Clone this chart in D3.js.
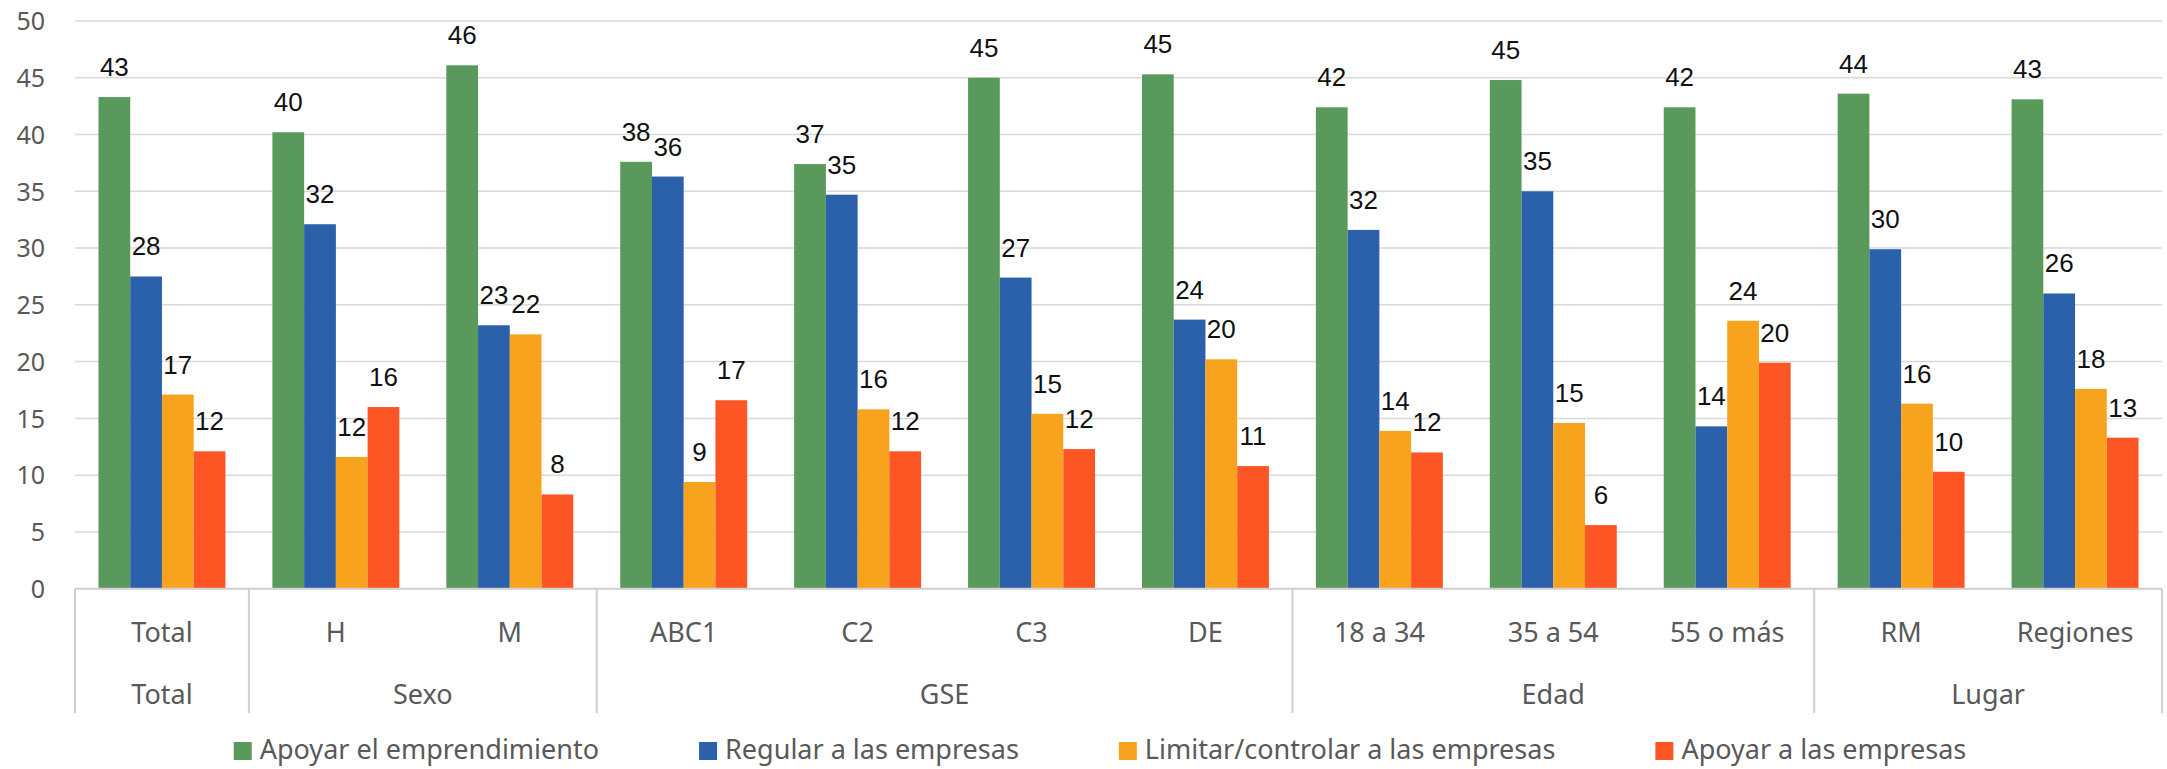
<!DOCTYPE html>
<html>
<head>
<meta charset="utf-8">
<script src="https://cdn.jsdelivr.net/npm/d3@7"></script>
<style>
  body { margin: 0; background: #fff; }
  svg { display: block; }
</style>
</head>
<body>
<div class="chart"></div>
<script>
// categories and groups (two level x axis)
const categories = ["Total", "H", "M", "ABC1", "C2", "C3", "DE", "18 a 34", "35 a 54", "55 o más", "RM", "Regiones"]
const groups = [
    {name: "Total", from: 0, to: 0},
    {name: "Sexo", from: 1, to: 2},
    {name: "GSE", from: 3, to: 6},
    {name: "Edad", from: 7, to: 9},
    {name: "Lugar", from: 10, to: 11}
]
const seriesNames = ["Apoyar el emprendimiento", "Regular a las empresas", "Limitar/controlar a las empresas", "Apoyar a las empresas"]
const seriesColors = ["#599a5c", "#2b60aa", "#f8a31e", "#fe5524"]

// values
const apoyarEmprendimiento = [43.3, 40.2, 46.1, 37.6, 37.4, 45.0, 45.3, 42.4, 44.8, 42.4, 43.6, 43.1]
const regularEmpresas = [27.5, 32.1, 23.2, 36.3, 34.7, 27.4, 23.7, 31.6, 35.0, 14.3, 29.9, 26.0]
const limitarEmpresas = [17.1, 11.6, 22.4, 9.4, 15.8, 15.4, 20.2, 13.9, 14.6, 23.6, 16.3, 17.6]
const apoyarEmpresas = [12.1, 16.0, 8.3, 16.6, 12.1, 12.3, 10.8, 12.0, 5.6, 19.9, 10.3, 13.3]

const yTicks = [0, 5, 10, 15, 20, 25, 30, 35, 40, 45, 50]

const allSeries = [apoyarEmprendimiento, regularEmpresas, limitarEmpresas, apoyarEmpresas]

let width = 2167
let height = 769
let margin = {top: 21, right: 5, bottom: 181, left: 75}

let svg = d3.select(".chart")
    .append("svg")
    .attr("width", width)
    .attr("height", height)

let x0 = d3.scaleBand()
    .domain(categories)
    .range([margin.left, width - margin.right])
    .padding(0)

let x1 = d3.scaleBand()
    .domain(seriesNames)
    .range([0, x0.bandwidth()])
    .paddingInner(0)
    .paddingOuter(0.74)

let y = d3.scaleLinear()
    .domain([0, 50])
    .range([height - margin.bottom + 0.7, margin.top])

// gridlines
svg.append("g")
    .selectAll("line")
    .data(yTicks.slice(1))
    .enter()
    .append("line")
    .attr("x1", margin.left)
    .attr("x2", width - margin.right)
    .attr("y1", d => y(d))
    .attr("y2", d => y(d))
    .attr("stroke", "#d9d9d9")
    .attr("stroke-width", 1.5)

// y axis labels
let yAxis = svg.append("g")
    .attr("transform", "translate(" + (margin.left - 30) + ",0)")
    .call(d3.axisLeft(y).tickValues(yTicks).tickSize(0).tickPadding(0))
yAxis.select(".domain").remove()
yAxis.selectAll("text")
    .attr("dy", "0.35em")
    .style("font-family", "'Noto Sans', sans-serif")
    .style("font-size", "25px")
    .style("fill", "#595959")

// bars
let rows = categories.map((c, i) => ({cat: c, vals: allSeries.map((s, j) => ({name: seriesNames[j], value: s[i], color: seriesColors[j]}))}))

let groupSel = svg.append("g")
    .selectAll("g")
    .data(rows)
    .enter()
    .append("g")
    .attr("transform", d => "translate(" + x0(d.cat) + ",0)")

groupSel.selectAll("rect")
    .data(d => d.vals)
    .enter()
    .append("rect")
    .attr("x", d => x1(d.name))
    .attr("width", x1.bandwidth())
    .attr("y", d => y(d.value))
    .attr("height", d => y(0) - y(d.value))
    .attr("fill", d => d.color)

groupSel.selectAll("text")
    .data(d => d.vals)
    .enter()
    .append("text")
    .text(d => Math.round(d.value))
    .attr("x", d => x1(d.name) + x1.bandwidth() / 2)
    .attr("y", d => y(d.value) - 21)
    .style("text-anchor", "middle")
    .style("font-family", "'Liberation Sans', Arial, sans-serif")
    .style("font-size", "26px")
    .style("fill", "#111")

// x axis: baseline and table lines
let axisY = y(0)
let tableBottom = 713
svg.append("line")
    .attr("x1", margin.left)
    .attr("x2", width - margin.right)
    .attr("y1", axisY)
    .attr("y2", axisY)
    .attr("stroke", "#cfcfcf")
    .attr("stroke-width", 2)

let bounds = [margin.left].concat(groups.map(g => x0(categories[g.to]) + x0.bandwidth()))
svg.append("g")
    .selectAll("line")
    .data(bounds)
    .enter()
    .append("line")
    .attr("x1", d => d)
    .attr("x2", d => d)
    .attr("y1", axisY)
    .attr("y2", tableBottom)
    .attr("stroke", "#cfcfcf")
    .attr("stroke-width", 2)

// category labels
svg.append("g")
    .selectAll("text")
    .data(categories)
    .enter()
    .append("text")
    .text(d => d)
    .attr("x", d => x0(d) + x0.bandwidth() / 2)
    .attr("y", 642)
    .style("text-anchor", "middle")
    .style("font-family", "'Noto Sans', sans-serif")
    .style("font-size", "27px")
    .style("fill", "#595959")

// group labels
svg.append("g")
    .selectAll("text")
    .data(groups)
    .enter()
    .append("text")
    .text(d => d.name)
    .attr("x", d => (x0(categories[d.from]) + x0(categories[d.to]) + x0.bandwidth()) / 2)
    .attr("y", 704)
    .style("text-anchor", "middle")
    .style("font-family", "'Noto Sans', sans-serif")
    .style("font-size", "27px")
    .style("fill", "#595959")

// legend
let legend = svg.append("g")
let items = legend.selectAll("g")
    .data(seriesNames)
    .enter()
    .append("g")
items.append("rect")
    .attr("width", 18)
    .attr("height", 18)
    .attr("y", 742)
    .attr("fill", (d, i) => seriesColors[i])
items.append("text")
    .text(d => d)
    .attr("x", 26)
    .attr("y", 759)
    .style("font-family", "'Noto Sans', sans-serif")
    .style("font-size", "27px")
    .style("fill", "#595959")

let gap = 100
let widths = []
items.each(function () {
    widths.push(26 + d3.select(this).select("text").node().getComputedTextLength())
})
let total = d3.sum(widths) + gap * (widths.length - 1)
let cx = 1100 - total / 2
items.attr("transform", function (d, i) {
    let pos = cx
    cx += widths[i] + gap
    return "translate(" + pos + ",0)"
})
</script>
</body>
</html>
